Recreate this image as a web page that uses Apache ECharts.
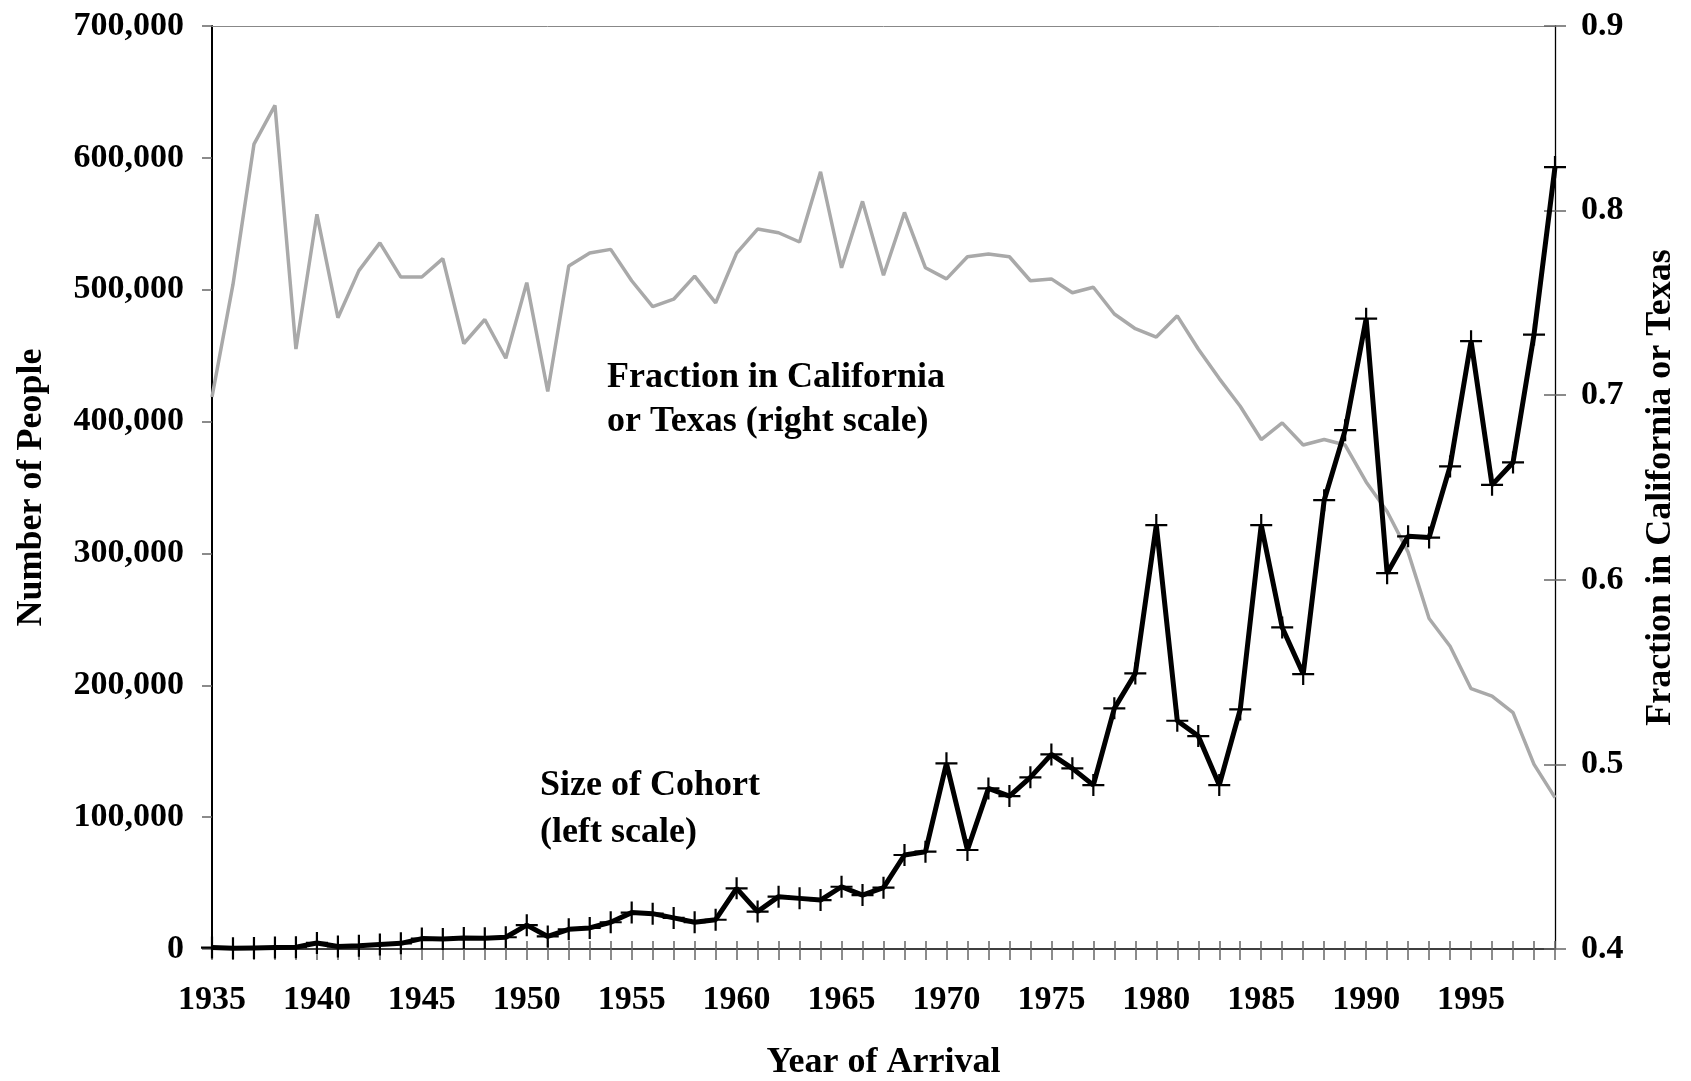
<!DOCTYPE html>
<html>
<head>
<meta charset="utf-8">
<script src="https://cdn.jsdelivr.net/npm/echarts@6/dist/echarts.min.js"></script>
<style>
html,body{margin:0;padding:0;background:#fff;}
#chart{width:1691px;height:1081px;}
</style>
</head>
<body>
<div id="chart"></div>
<script>
const years = [];
for (let y = 1935; y <= 1999; y++) years.push(String(y));

const cohortSize = [
  1100, 500, 800, 1100, 1400, 4600, 1900, 2400, 3500, 4300,
  7900, 7600, 8400, 8100, 8900, 18100, 9500, 14900, 16000, 20300,
  27600, 26800, 23600, 20300, 22200, 46000, 28400, 39700, 38400, 37100,
  47200, 40900, 46500, 71300, 73800, 140800, 75100, 121800, 116000, 130200,
  147600, 137000, 124300, 182500, 209000, 321500, 173100, 161500, 124300, 181700,
  321500, 243900, 208500, 340400, 393500, 478000, 285000, 313000, 312000, 366000,
  461000, 352000, 369000, 466000, 593000
];

const fractionCATX = [
  0.699, 0.760, 0.836, 0.857, 0.725, 0.798, 0.742, 0.7675, 0.7825, 0.764,
  0.764, 0.774, 0.728, 0.741, 0.720, 0.761, 0.702, 0.770, 0.777, 0.779,
  0.762, 0.748, 0.752, 0.7645, 0.750, 0.777, 0.790, 0.788, 0.783, 0.821,
  0.769, 0.805, 0.765, 0.799, 0.769, 0.763, 0.775, 0.7765, 0.775, 0.762,
  0.763, 0.7555, 0.7585, 0.744, 0.736, 0.7315, 0.743, 0.725, 0.709, 0.694,
  0.676, 0.685, 0.673, 0.676, 0.673, 0.653, 0.637, 0.615, 0.579, 0.564,
  0.541, 0.537, 0.528, 0.500, 0.482
];

const leftTicks = { min: 0, max: 700000, interval: 100000 };
const rightTicks = { min: 0.4, max: 0.9, interval: 0.1 };

const FONT = "'Liberation Serif', 'DejaVu Serif', serif";
const FS = 34;   // tick labels
const FT = 36;   // titles and notes

const plus = 'path://M9,0 H11 V9 H20 V11 H11 V20 H9 V11 H0 V9 H9 Z';
const tickGray = '#666';

const chart = echarts.init(document.getElementById('chart'), null, { renderer: 'canvas' });
chart.setOption({
  backgroundColor: '#ffffff',
  animation: false,
  grid: { left: 212, right: 136, top: 26, bottom: 132, containLabel: false, outerBoundsMode: 'none' },
  xAxis: [
    {
      type: 'category',
      data: years,
      boundaryGap: false,
      position: 'bottom',
      name: 'Year of Arrival',
      nameLocation: 'middle',
      nameGap: 96,
      nameTextStyle: { fontFamily: FONT, fontWeight: 'bold', fontSize: FT, color: '#000' },
      axisLine: { onZero: false, lineStyle: { color: '#000', width: 1.5 } },
      axisTick: { show: true, interval: 0, length: 11, lineStyle: { color: tickGray, width: 1.5 } },
      axisLabel: { interval: 4, margin: 34, fontFamily: FONT, fontWeight: 'bold', fontSize: FS, color: '#000' },
      splitLine: { show: false }
    },
    {
      type: 'category',
      data: years,
      boundaryGap: false,
      position: 'bottom',
      axisLine: { show: false, onZero: false },
      axisTick: { show: true, inside: true, interval: 0, length: 8, lineStyle: { color: tickGray, width: 1.5 } },
      axisLabel: { show: false },
      splitLine: { show: false }
    },
    {
      type: 'category',
      data: years,
      boundaryGap: false,
      position: 'top',
      axisLine: { show: true, onZero: false, lineStyle: { color: '#888', width: 1 } },
      axisTick: { show: false },
      axisLabel: { show: false },
      splitLine: { show: false }
    }
  ],
  yAxis: [
    {
      type: 'value',
      position: 'left',
      min: leftTicks.min, max: leftTicks.max, interval: leftTicks.interval,
      name: 'Number of People',
      nameLocation: 'middle',
      nameGap: 162,
      nameRotate: 90,
      nameTextStyle: { fontFamily: FONT, fontWeight: 'bold', fontSize: FT, color: '#000' },
      axisLine: { show: true, onZero: false, lineStyle: { color: '#000', width: 2 } },
      axisTick: { show: true, length: 10, lineStyle: { color: tickGray, width: 1.5 } },
      axisLabel: {
        margin: 28, fontFamily: FONT, fontWeight: 'bold', fontSize: FS, color: '#000',
        formatter: v => v.toLocaleString('en-US')
      },
      splitLine: { show: false }
    },
    {
      type: 'value',
      position: 'right',
      min: rightTicks.min, max: rightTicks.max, interval: rightTicks.interval,
      name: 'Fraction in California or Texas',
      nameLocation: 'middle',
      nameGap: 88,
      nameRotate: 90,
      nameTextStyle: { fontFamily: FONT, fontWeight: 'bold', fontSize: FT, color: '#000' },
      axisLine: { show: true, onZero: false, lineStyle: { color: '#000', width: 1.3 } },
      axisTick: { show: true, length: 11, lineStyle: { color: tickGray, width: 1.5 } },
      axisLabel: {
        margin: 26, fontFamily: FONT, fontWeight: 'bold', fontSize: FS, color: '#000',
        formatter: v => v.toFixed(1)
      },
      splitLine: { show: false }
    },
    {
      type: 'value',
      position: 'right',
      min: rightTicks.min, max: rightTicks.max, interval: rightTicks.interval,
      axisLine: { show: false, onZero: false },
      axisTick: { show: true, inside: true, length: 11, lineStyle: { color: tickGray, width: 1.5 } },
      axisLabel: { show: false },
      splitLine: { show: false }
    }
  ],
  series: [
    {
      name: 'Fraction in California or Texas',
      type: 'line',
      xAxisIndex: 0,
      yAxisIndex: 1,
      data: fractionCATX,
      showSymbol: false,
      symbol: 'none',
      lineStyle: { color: '#a9a9a9', width: 3.5 },
      z: 2
    },
    {
      name: 'Size of Cohort',
      type: 'line',
      xAxisIndex: 0,
      yAxisIndex: 0,
      data: cohortSize,
      symbol: plus,
      symbolSize: 22,
      showSymbol: true,
      showAllSymbol: true,
      clip: false,
      itemStyle: { color: '#000' },
      lineStyle: { color: '#000', width: 5 },
      z: 3
    }
  ],
  graphic: [
    {
      type: 'text', left: 607, top: 356,
      style: {
        text: 'Fraction in California\nor Texas (right scale)',
        font: `bold ${FT}px ${FONT}`, fill: '#000', lineHeight: 44
      }
    },
    {
      type: 'text', left: 540, top: 762,
      style: {
        text: 'Size of Cohort\n(left scale)',
        font: `bold ${FT}px ${FONT}`, fill: '#000', lineHeight: 47
      }
    }
  ]
});
</script>
</body>
</html>
